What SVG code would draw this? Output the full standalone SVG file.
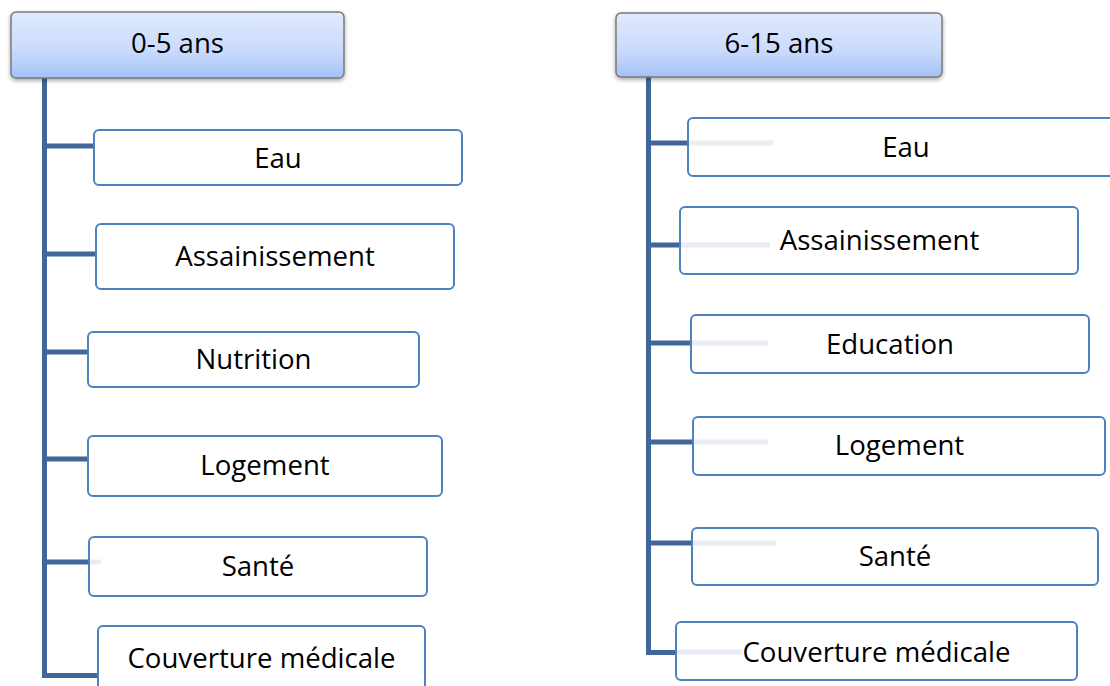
<svg xmlns="http://www.w3.org/2000/svg" width="1110" height="686" viewBox="0 0 1110 686">
<defs>
<linearGradient id="hg" x1="0" y1="0" x2="0" y2="1">
<stop offset="0" stop-color="#e0eafd"/>
<stop offset="0.6" stop-color="#c9dafb"/>
<stop offset="1" stop-color="#a3c1f7"/>
</linearGradient>
<filter id="sh" x="-5%" y="-10%" width="110%" height="130%">
<feDropShadow dx="0" dy="2" stdDeviation="2" flood-color="#000" flood-opacity="0.35"/>
</filter>
<style>
.hdr{fill:url(#hg);stroke:#7a7a7a;stroke-width:1.5}
.box{fill:#fff;stroke:#4f81bd;stroke-width:2}
.t{font-family:"Open Sans","Liberation Sans",sans-serif;font-size:27.6px;fill:#000;text-anchor:middle}
.trunk{stroke:#41679a;stroke-width:5;fill:none}
.stub{stroke:#e9eef4;stroke-width:5}
</style>
</defs>
<g id="connectors">
<path class="trunk" d="M44.5 78 V675.5 H98"/>
<path class="trunk" d="M44.5 146 H94 M44.5 254 H96 M44.5 352 H88 M44.5 459 H88 M44.5 562 H89"/>
<path class="trunk" d="M648.5 77 V652.5 H676"/>
<path class="trunk" d="M648.5 143 H688 M648.5 245 H680 M648.5 343 H691 M648.5 442 H693 M648.5 543 H692"/>
</g>
<g id="h1"><rect class="hdr" x="11" y="12" width="333" height="66" rx="5" filter="url(#sh)"/><text class="t" x="177.5" y="53">0-5 ans</text></g>
<g id="h2"><rect class="hdr" x="616" y="13" width="326" height="64" rx="5" filter="url(#sh)"/><text class="t" x="779" y="53">6-15 ans</text></g>
<g id="l1"><rect class="box" x="94" y="130" width="368" height="55" rx="5"/><text class="t" x="278" y="168">Eau</text></g>
<g id="l2"><rect class="box" x="96" y="224" width="358" height="65" rx="5"/><text class="t" x="275" y="266">Assainissement</text></g>
<g id="l3"><rect class="box" x="88" y="332" width="331" height="55" rx="5"/><text class="t" x="253.5" y="369">Nutrition</text></g>
<g id="l4"><rect class="box" x="88" y="436" width="354" height="60" rx="5"/><text class="t" x="265" y="475">Logement</text></g>
<g id="l5"><rect class="box" x="89" y="537" width="338" height="59" rx="5"/><line class="stub" x1="90" y1="562" x2="101" y2="562"/><text class="t" x="258" y="576">Santé</text></g>
<g id="l6"><rect class="box" x="98" y="626" width="327" height="80" rx="5"/><text class="t" x="261.5" y="668">Couverture médicale</text></g>
<g id="r1"><rect class="box" x="688" y="118" width="430" height="58" rx="5"/><line class="stub" x1="689" y1="143" x2="773" y2="143"/><text class="t" x="906" y="157">Eau</text></g>
<g id="r2"><rect class="box" x="680" y="207" width="398" height="67" rx="5"/><line class="stub" x1="681" y1="245" x2="770" y2="245"/><text class="t" x="879.5" y="250">Assainissement</text></g>
<g id="r3"><rect class="box" x="691" y="315" width="398" height="58" rx="5"/><line class="stub" x1="692" y1="343" x2="768" y2="343"/><text class="t" x="890" y="354">Education</text></g>
<g id="r4"><rect class="box" x="693" y="417" width="412" height="58" rx="5"/><line class="stub" x1="694" y1="442" x2="768" y2="442"/><text class="t" x="899.5" y="455">Logement</text></g>
<g id="r5"><rect class="box" x="692" y="528" width="406" height="57" rx="5"/><line class="stub" x1="693" y1="543" x2="776" y2="543"/><text class="t" x="895" y="566">Santé</text></g>
<g id="r6"><rect class="box" x="676" y="622" width="401" height="58" rx="5"/><line class="stub" x1="677" y1="652" x2="742" y2="652"/><text class="t" x="876.5" y="662">Couverture médicale</text></g>
</svg>
